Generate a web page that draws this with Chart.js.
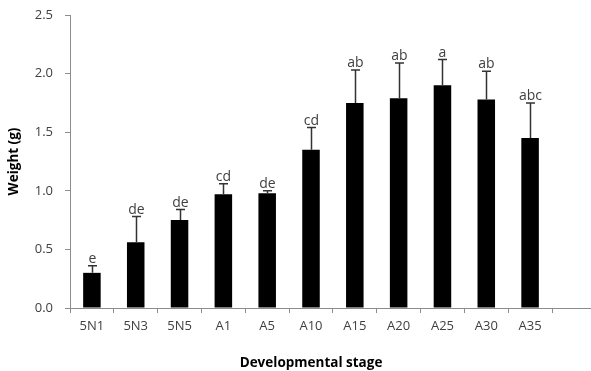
<!DOCTYPE html>
<html>
<head>
<meta charset="utf-8">
<script src="https://cdn.jsdelivr.net/npm/chart.js@4"></script>
<style>
html,body{margin:0;padding:0;background:#fff;}
#wrap{width:591px;height:371px;position:relative;}
</style>
</head>
<body>
<div id="wrap"><canvas id="c" width="591" height="371"></canvas></div>
<script>
const categories = ['5N1','5N3','5N5','A1','A5','A10','A15','A20','A25','A30','A35'];
const weights = [0.30,0.56,0.75,0.97,0.98,1.35,1.75,1.79,1.90,1.78,1.45];
const errorTops = [0.36,0.78,0.84,1.06,1.00,1.54,2.03,2.09,2.12,2.02,1.75];
const letters = ['e','de','de','cd','de','cd','ab','ab','a','ab','abc'];
const yTicks = [0,0.5,1.0,1.5,2.0,2.5];

const axisColor = '#8c8c8c';
const textColor = '#404040';
const fontFam = '"Open Sans", "Liberation Sans", sans-serif';

const errPlugin = {
  id: 'errPlugin',
  afterDatasetsDraw(chart) {
    const ctx = chart.ctx;
    const meta = chart.getDatasetMeta(0);
    const y = chart.scales.y;
    ctx.save();
    ctx.strokeStyle = '#333333';
    ctx.lineWidth = 1.5;
    ctx.fillStyle = textColor;
    ctx.font = '14px ' + fontFam;
    ctx.textAlign = 'center';
    ctx.textBaseline = 'alphabetic';
    meta.data.forEach((bar, i) => {
      const x = Math.round(bar.x) + 0.5;
      const top = y.getPixelForValue(weights[i]);
      const et = y.getPixelForValue(errorTops[i]);
      ctx.beginPath();
      ctx.moveTo(x, top);
      ctx.lineTo(x, et);
      ctx.moveTo(x - 4.5, et);
      ctx.lineTo(x + 4.5, et);
      ctx.stroke();
      ctx.fillText(letters[i], x, et - 3);
    });
    // extend x axis line to right edge
    const ca = chart.chartArea;
    const by = Math.round(chart.scales.y.getPixelForValue(0)) + 0.5;
    ctx.strokeStyle = axisColor;
    ctx.lineWidth = 1;
    ctx.beginPath();
    ctx.moveTo(ca.right, by);
    ctx.lineTo(chart.width, by);
    ctx.stroke();
    ctx.restore();
  }
};

new Chart(document.getElementById('c'), {
  type: 'bar',
  data: {
    labels: categories,
    datasets: [{
      data: weights,
      backgroundColor: '#000000',
      borderWidth: 0,
      barPercentage: 0.4,
      categoryPercentage: 1.0
    }]
  },
  options: {
    responsive: false,
    animation: false,
    devicePixelRatio: 1,
    layout: { padding: { top: 15, right: 39, left: 0, bottom: 0 } },
    plugins: { legend: { display: false }, tooltip: { enabled: false } },
    scales: {
      x: {
        afterFit(s) { s.height = 63; s.paddingLeft = 0; s.paddingRight = 0; },
        grid: { display: true, drawOnChartArea: false, color: axisColor, tickLength: 5, offset: true },
        border: { color: axisColor },
        ticks: { color: textColor, font: { family: fontFam, size: 13 }, padding: 5, maxRotation: 0 },
        title: { display: true, text: 'Developmental stage', color: '#000', font: { family: fontFam, size: 13.5, weight: 'bold' }, padding: { top: 10, bottom: 0 } }
      },
      y: {
        min: 0, max: 2.5,
        afterFit(s) { s.width = 70; s.paddingTop = 0; s.paddingBottom = 0; },
        afterBuildTicks(s) { s.ticks = yTicks.map(v => ({ value: v })); },
        grid: { display: true, drawOnChartArea: false, color: axisColor, tickLength: 5 },
        border: { color: axisColor },
        ticks: { color: textColor, font: { family: fontFam, size: 13 }, padding: 12, callback: v => v.toFixed(1) },
        title: { display: true, text: 'Weight (g)', color: '#000', font: { family: fontFam, size: 13.5, weight: 'bold' }, padding: { top: 6, bottom: 0 } }
      }
    }
  },
  plugins: [errPlugin]
});
</script>
</body>
</html>
